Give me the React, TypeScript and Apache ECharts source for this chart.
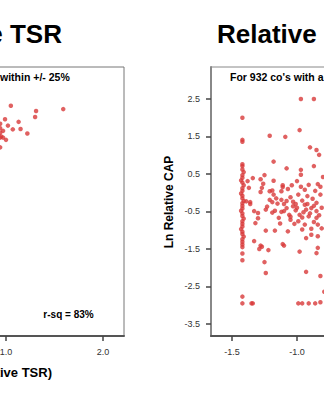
import React, { useEffect, useRef } from "react";
import * as echarts from "echarts";

// Tick labels (those inside the visible window)
const tsrTicksX = [1.0, 2.0];
const capTicksX = [-1.5, -1.0];
const ticksY = [-3.5, -2.5, -1.5, -0.5, 0.5, 1.5, 2.5];

// Left panel (Relative TSR) points
const tsrX = [1.05, 1.31, 1.30, 1.59, 0.99, 1.13, 0.94, 1.02, 1.07, 1.15, 1.22, 0.97, 0.94, 0.94, 0.95, 0.97, 0.94, 1.0, 0.94];
const tsrY = [2.32, 2.18, 2.02, 2.23, 1.96, 1.89, 1.84, 1.79, 1.69, 1.70, 1.58, 1.65, 1.72, 1.60, 1.50, 1.47, 1.47, 1.41, 1.21];

// Right panel (Relative CAP): clustered column near -1.42
const capColumnY = [2.0, 1.41, 1.36, 0.76, 0.71, 0.62, 0.55, 0.47, 0.40, 0.33, 0.27, 0.20, 0.12, 0.05, -0.02, -0.08, -0.15, -0.22, -0.28, -0.35, -0.42, -0.48, -0.55, -0.62, -0.69, -0.76, -0.83, -0.90, -0.97, -1.04, -1.10, -1.17, -1.24, -1.31, -1.38, -1.45, -1.62, -1.80, -2.77, -2.95];
const capColumnX = [-1.42, -1.42, -1.42, -1.42, -1.42, -1.42, -1.41, -1.42, -1.42, -1.43, -1.42, -1.41, -1.42, -1.42, -1.43, -1.42, -1.42, -1.41, -1.42, -1.42, -1.42, -1.43, -1.42, -1.42, -1.41, -1.42, -1.42, -1.42, -1.43, -1.42, -1.42, -1.41, -1.42, -1.42, -1.42, -1.42, -1.42, -1.42, -1.42, -1.42];

// Right panel (Relative CAP): scattered points
const capX = [
  -0.97, -0.87, -1.21, -1.09, -0.98, -0.90, -0.85, -0.83, -1.18, -1.08, -0.97, -0.87,
  -1.34, -1.28, -1.25, -1.18, -0.80, -1.38, -1.26, -1.11, -1.04, -0.97, -0.91, -0.84,
  -1.28, -1.21, -1.12, -1.18, -1.37, -1.27, -1.19, -1.11, -1.00, -0.97, -0.82,
  -1.39, -1.36, -1.21, -1.19, -1.15, -1.12, -1.05, -1.03, -0.99, -0.96, -0.92, -0.88, -0.85,
  -1.33, -1.30, -1.32, -1.24, -1.17, -1.10, -1.08, -1.03, -1.01, -1.06, -0.98, -0.93, -0.89, -0.85,
  -1.14, -1.05, -0.99, -0.91, -0.85, -0.94, -0.89, -0.84,
  -1.24, -1.17, -1.07, -0.96, -0.93, -0.89, -0.84, -1.33, -1.28,
  -1.36, -1.30, -1.23, -1.19, -1.12, -1.05,
  -1.29, -1.22, -1.11, -0.98, -0.85, -1.25, -1.24, -0.93, -0.82, -1.27, -0.84, -0.79, -1.10,
  -1.35, -1.34, -0.99, -0.96, -0.91, -0.86, -0.82,
  -1.16, -1.08, -1.01, -0.94, -0.90, -0.96, -1.02, -0.87, -1.13, -0.81, -0.81, -0.82, -0.86, -0.94, -1.07, -1.00, -0.95, -0.92, -1.10, -0.87, -0.83,
];
const capY = [
  2.50, 2.50, 1.52, 1.49, 1.67, 1.21, 1.14, 1.01, 0.83, 0.65, 0.61, 0.71,
  0.39, 0.36, 0.47, 0.32, 0.42, 0.31, 0.24, 0.20, 0.20, 0.48, 0.21, 0.23,
  0.02, 0.04, 0.04, -0.05, 0.13, 0.13, 0.06, 0.15, 0.31, 0.16, 0.16,
  -0.23, -0.25, -0.19, -0.25, -0.29, -0.19, -0.12, -0.24, -0.05, -0.21, -0.09, -0.16, -0.27,
  -0.49, -0.54, -0.81, -0.45, -0.48, -0.49, -0.41, -0.36, -0.47, -0.59, -0.59, -0.45, -0.41, -0.49,
  -0.67, -0.72, -0.76, -0.63, -0.67, -0.85, -0.96, -0.85,
  -1.01, -1.01, -1.03, -0.98, -1.21, -1.12, -1.16, -1.29, -1.41,
  -0.30, -0.68, -0.37, -0.53, -0.51, -0.64,
  -1.50, -1.53, -1.37, -1.57, -1.61, -1.85, -2.14, -2.11, -2.22, -1.44, -1.47, -2.64, -1.41,
  -2.95, -2.95, -2.95, -2.95, -2.95, -2.95, -2.92,
  -0.15, -0.22, -0.30, -0.32, -0.55, -0.66, -0.83, -0.78, -0.82, -0.40, -0.95, -0.05, 0.05, 0.08, 0.10, -0.40, -0.52, -0.30, -0.30, -0.35, -0.60,
];

const FONT = 'Arial, "Liberation Sans", sans-serif';
const RED = "#d83a3a";
const fmt = (v: number) => v.toFixed(1);

// The visible 324x400 window is a crop of a wider chart canvas.
const CANVAS_W = 650;
const OFFSET = 200;

export default function App() {
  const ref = useRef<HTMLDivElement>(null);
  useEffect(() => {
    if (!ref.current) return;
    const chart = echarts.init(ref.current, null, { renderer: "svg" });
    const tsrData = tsrX.map((x, i) => [x, tsrY[i]]);
    const capData = capColumnX
      .map((x, i) => [x, capColumnY[i]])
      .concat(capX.map((x, i) => [x, capY[i]]));

    const axisX = (ticks: number[]) => ({
      type: "value" as const,
      axisLine: { show: true, onZero: false, lineStyle: { color: "#555", width: 2 } },
      axisTick: { show: true, length: 5, customValues: ticks, lineStyle: { color: "#444", width: 1.5 } },
      axisLabel: { customValues: ticks, formatter: fmt, color: "#333", fontSize: 9, fontFamily: FONT, margin: 11 },
      splitLine: { show: false },
    });
    const axisY = (showLabels: boolean, ticks: number[]) => ({
      type: "value" as const,
      min: -3.82,
      max: 3.353,
      axisLine: { show: true, onZero: false, lineStyle: { color: "#888", width: 2 } },
      axisTick: { show: showLabels, length: 5, customValues: ticks, lineStyle: { color: "#444", width: 1.5 } },
      axisLabel: { show: showLabels, customValues: ticks, formatter: fmt, color: "#333", fontSize: 9, fontFamily: FONT, margin: 11 },
      splitLine: { show: false },
    });

    const txt = (x: number, y: number, text: string, fontSize: number, align: string, extra: any = {}) => ({
      type: "text",
      x: x + OFFSET,
      y,
      ...extra,
      style: { text, fontSize, fontWeight: "bold", fontFamily: FONT, fill: "#000", align, verticalAlign: "middle" },
    });

    chart.setOption({
      animation: false,
      grid: [
        { left: OFFSET - 188, right: CANVAS_W - (OFFSET + 124), top: 67, bottom: 64, show: true, borderColor: "#777", borderWidth: 1 },
        { left: OFFSET + 211, right: CANVAS_W - (OFFSET + 427), top: 67, bottom: 64, show: true, borderColor: "#888", borderWidth: 1 },
      ],
      xAxis: [
        { ...axisX(tsrTicksX), gridIndex: 0, min: -1.0, max: 2.2165 },
        { ...axisX(capTicksX), gridIndex: 1, min: -1.6615, max: 0.0 },
      ],
      yAxis: [
        { ...axisY(false, ticksY), gridIndex: 0 },
        { ...axisY(true, ticksY), gridIndex: 1 },
      ],
      series: [
        { type: "scatter", xAxisIndex: 0, yAxisIndex: 0, data: tsrData, symbol: "circle", symbolSize: 4.5, itemStyle: { color: RED }, silent: true },
        { type: "scatter", xAxisIndex: 1, yAxisIndex: 1, data: capData, symbol: "circle", symbolSize: 4.5, itemStyle: { color: RED }, silent: true },
      ],
      graphic: [
        txt(62, 33.5, "Relative TSR", 26, "right"),
        txt(217, 33.5, "Relative", 26, "left"),
        txt(0, 77, "within +/- 25%", 10.5, "left"),
        txt(230, 77, "For 932 co's with a", 10.5, "left"),
        txt(68.5, 314, "r-sq = 83%", 10, "center"),
        txt(52, 372, "Ln (Relative TSR)", 13, "right"),
        txt(169, 202, "Ln Relative CAP", 12, "center", { rotation: Math.PI / 2 }),
      ],
    });
    return () => chart.dispose();
  }, []);
  return (
    <div style={{ position: "fixed", left: 0, top: 0, width: 324, height: 400, overflow: "hidden", background: "#fff" }}>
      <div
        ref={ref}
        style={{ position: "absolute", left: -OFFSET, top: 0, width: CANVAS_W, height: 400 }}
      />
    </div>
  );
}
